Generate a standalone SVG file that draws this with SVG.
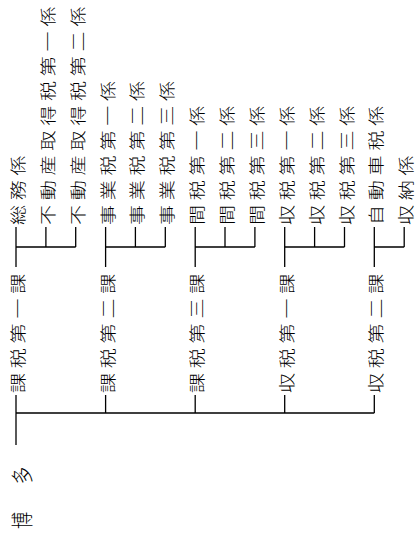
<svg xmlns="http://www.w3.org/2000/svg" width="420" height="539" viewBox="0 0 420 539">
<style>
text{font-family:"Noto Sans CJK JP","Noto Sans CJK SC",sans-serif;fill:#000;dominant-baseline:central;font-weight:300}
.t{font-size:20px;letter-spacing:4.8px}
.r{font-size:22px;letter-spacing:35.7px}
#connectors path{fill:none;stroke:#000;stroke-width:1.3}
</style>
<rect width="420" height="539" fill="#fff"/>
<g id="connectors">
<path d="M16,445V395M16,413H374.3M105.6,413V395M195.2,413V395M284.7,413V395M374.3,413V395"/>
<path d="M16,267V227M16,247H75.7M45.9,247V227M75.7,247V227"/>
<path d="M105.6,267V227M105.6,247H165.3M135.4,247V227M165.3,247V227"/>
<path d="M195.2,267V227M195.2,247H254.9M225,247V227M254.9,247V227"/>
<path d="M284.7,267V227M284.7,247H344.5M314.6,247V227M344.5,247V227"/>
<path d="M374.3,267V227M374.3,247H404.2M404.2,247V227"/>
</g>
<g id="root"><text class="r" transform="translate(21,529) rotate(-90) scale(0.78,1)">博多</text></g>
<g id="ka1"><text class="t" transform="translate(17,393) rotate(-90) scale(1,0.8)">課税第一課</text></g>
<g id="ka2"><text class="t" transform="translate(106.6,393) rotate(-90) scale(1,0.8)">課税第二課</text></g>
<g id="ka3"><text class="t" transform="translate(196.2,393) rotate(-90) scale(1,0.8)">課税第三課</text></g>
<g id="ka4"><text class="t" transform="translate(285.7,393) rotate(-90) scale(1,0.8)">収税第一課</text></g>
<g id="ka5"><text class="t" transform="translate(375.3,393) rotate(-90) scale(1,0.8)">収税第二課</text></g>
<g id="k1"><text class="t" transform="translate(17,225) rotate(-90) scale(1,0.8)">総務係</text></g>
<g id="k2"><text class="t" transform="translate(46.9,225) rotate(-90) scale(1,0.8)">不動産取得税第一係</text></g>
<g id="k3"><text class="t" transform="translate(76.7,225) rotate(-90) scale(1,0.8)">不動産取得税第二係</text></g>
<g id="k4"><text class="t" transform="translate(106.6,225) rotate(-90) scale(1,0.8)">事業税第一係</text></g>
<g id="k5"><text class="t" transform="translate(136.4,225) rotate(-90) scale(1,0.8)">事業税第二係</text></g>
<g id="k6"><text class="t" transform="translate(166.3,225) rotate(-90) scale(1,0.8)">事業税第三係</text></g>
<g id="k7"><text class="t" transform="translate(196.2,225) rotate(-90) scale(1,0.8)">間税第一係</text></g>
<g id="k8"><text class="t" transform="translate(226,225) rotate(-90) scale(1,0.8)">間税第二係</text></g>
<g id="k9"><text class="t" transform="translate(255.9,225) rotate(-90) scale(1,0.8)">間税第三係</text></g>
<g id="k10"><text class="t" transform="translate(285.7,225) rotate(-90) scale(1,0.8)">収税第一係</text></g>
<g id="k11"><text class="t" transform="translate(315.6,225) rotate(-90) scale(1,0.8)">収税第二係</text></g>
<g id="k12"><text class="t" transform="translate(345.5,225) rotate(-90) scale(1,0.8)">収税第三係</text></g>
<g id="k13"><text class="t" transform="translate(375.3,225) rotate(-90) scale(1,0.8)">自動車税係</text></g>
<g id="k14"><text class="t" transform="translate(405.2,225) rotate(-90) scale(1,0.8)">収納係</text></g>
</svg>
